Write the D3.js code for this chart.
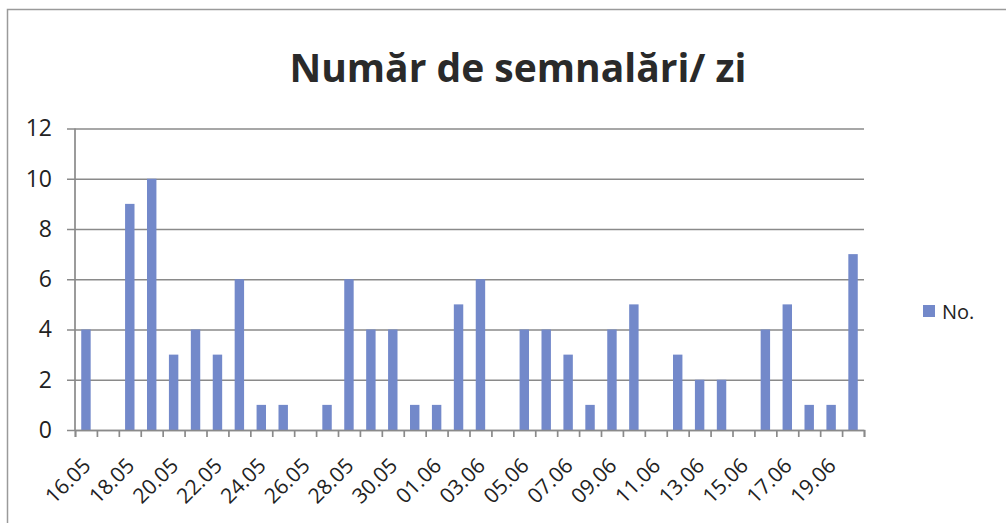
<!DOCTYPE html>
<html>
<head>
<meta charset="utf-8">
<script src="https://cdn.jsdelivr.net/npm/d3@7"></script>
<style>
  html, body { margin: 0; padding: 0; background: #fff; }
  svg { display: block; font-family: "Open Sans", "Noto Sans", sans-serif; }
</style>
</head>
<body>
<div id="chart"></div>
<script>
// categories (days) and values
const days = ["16.05","17.05","18.05","19.05","20.05","21.05","22.05","23.05","24.05","25.05",
  "26.05","27.05","28.05","29.05","30.05","31.05","01.06","02.06","03.06","04.06",
  "05.06","06.06","07.06","08.06","09.06","10.06","11.06","12.06","13.06","14.06",
  "15.06","16.06","17.06","18.06","19.06","20.06"];
const counts = [4,0,9,10,3,4,3,6,1,1,
  0,1,6,4,4,1,1,5,6,0,
  4,4,3,1,4,5,0,3,2,2,
  0,4,5,1,1,7];
const yTicks = [0,2,4,6,8,10,12];
const seriesName = "No.";
const title = "Număr de semnalări/ zi";

const W = 1006, H = 523;
const margin = { top: 128.5, right: 142, bottom: 93, left: 75 };
const width = W - margin.left - margin.right;
const height = H - margin.top - margin.bottom;

const svg = d3.select("#chart").append("svg")
  .attr("width", W).attr("height", H);

// outer frame (only top and left visible in the scan)
svg.append("path")
  .attr("d", `M7.5,${H} V9.5 H${W}`)
  .attr("fill", "none").attr("stroke", "#9a9a9a").attr("stroke-width", 1.5);

svg.append("text")
  .attr("x", 518).attr("y", 82)
  .attr("text-anchor", "middle")
  .attr("font-size", 39).attr("font-weight", "bold")
  .attr("fill", "#2a2a2a")
  .text(title);

const g = svg.append("g").attr("transform", `translate(${margin.left},${margin.top})`);

// scales
const x = d3.scaleBand().domain(days).range([0, width]).paddingInner(0.57).paddingOuter(0.285);
const xEdge = d3.scaleLinear().domain([0, days.length]).range([0, width]);
const y = d3.scaleLinear().domain([0, 12]).range([height, 0]);

// gridlines + y axis
const yAxis = g.append("g")
  .call(d3.axisLeft(y).tickValues(yTicks).tickSize(-width - 8).tickPadding(15).tickSizeOuter(0))
  .attr("transform", "translate(-8,0)");
yAxis.select(".domain").remove();
yAxis.selectAll(".tick line").attr("stroke", "#8a8a8a").attr("stroke-width", 1.7);
yAxis.selectAll(".tick text").attr("font-size", 23).attr("fill", "#222")
  .attr("font-family", "'Open Sans', sans-serif");

g.append("line")
  .attr("x1", 0).attr("x2", 0).attr("y1", y(12)).attr("y2", y(0))
  .attr("stroke", "#8a8a8a").attr("stroke-width", 1.7);

// bars
g.selectAll("rect.bar")
  .data(counts)
  .enter().append("rect")
  .attr("class", "bar")
  .attr("x", (d, i) => x(days[i]))
  .attr("width", x.bandwidth())
  .attr("y", d => y(d))
  .attr("height", d => y(0) - y(d))
  .attr("fill", "#7389ca");

// x axis with ticks on category boundaries
const xAxis = g.append("g")
  .attr("transform", `translate(0,${height})`)
  .call(d3.axisBottom(xEdge).tickValues(d3.range(days.length + 1)).tickSize(7).tickFormat(""));
xAxis.selectAll("line, path").attr("stroke", "#8a8a8a").attr("stroke-width", 1.7);

// rotated labels every other day
g.selectAll("text.xlab")
  .data(days.filter((d, i) => i % 2 === 0))
  .enter().append("text")
  .attr("class", "xlab")
  .attr("text-anchor", "end")
  .attr("font-size", 21)
  .attr("fill", "#222")
  .attr("transform", d => `translate(${x(d) + x.bandwidth() / 2 + 6},${height + 37}) rotate(-45)`)
  .text(d => d);

// legend
svg.append("rect")
  .attr("x", 923).attr("y", 305).attr("width", 12).attr("height", 12)
  .attr("fill", "#7389ca");
svg.append("text")
  .attr("x", 942).attr("y", 319)
  .attr("font-size", 20).attr("fill", "#222")
  .text(seriesName);
</script>
</body>
</html>
